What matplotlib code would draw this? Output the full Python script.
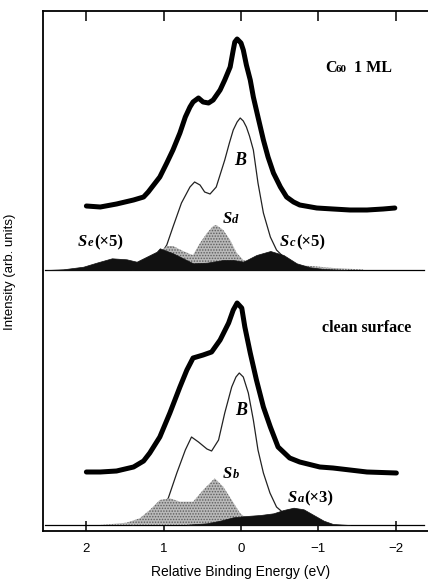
import numpy as np
import matplotlib
matplotlib.use("Agg")
import matplotlib.pyplot as plt

plt.rcParams["font.family"] = ["Liberation Sans", "DejaVu Sans"]
plt.rcParams["hatch.linewidth"] = 0.7

# energies in eV, heights in arb. units above each panel's baseline
# --- C60 1 ML (upper panel) ---
ml_x = [2.00, 1.82, 1.61, 1.39, 1.26, 1.20, 1.13, 1.05, 0.96, 0.88, 0.79, 0.72, 0.66,
        0.62, 0.55, 0.49, 0.42, 0.36, 0.27, 0.21, 0.14, 0.10, 0.08, 0.05, 0.00, -0.03,
        -0.07, -0.12, -0.16, -0.22, -0.29, -0.35, -0.42, -0.51, -0.59, -0.68, -0.76,
        -0.98, -1.19, -1.41, -1.63, -1.84, -1.99]
ml_y = [64, 63, 66, 70, 73, 78, 85, 93, 107, 120, 137, 153, 163,
        168, 172, 168, 167, 170, 180, 190, 203, 220, 228, 231, 227, 220,
        205, 190, 173, 153, 130, 113, 97, 83, 73, 68, 65,
        62, 61, 60, 60, 61, 62]

ml_b_x = [1.40, 1.20, 1.05, 0.96, 0.88, 0.77, 0.66, 0.60, 0.53, 0.47, 0.40, 0.32, 0.21,
          0.15, 0.10, 0.05, 0.01, -0.03, -0.07, -0.11, -0.16, -0.22, -0.29, -0.38,
          -0.46, -0.59, -0.76, -0.98]
ml_b_y = [0, 4, 14, 25, 43, 67, 83, 88, 85, 78, 76, 83, 110,
          127, 140, 148, 152, 149, 143, 134, 120, 87, 57, 33,
          20, 10, 3, 0.5]

ml_sd_x = [1.60, 1.35, 1.15, 0.96, 0.88, 0.75, 0.66, 0.62, 0.53, 0.44, 0.36, 0.32, 0.23,
           0.14, 0.055, -0.03, -0.16, -0.40, -0.70, -0.90, -1.20, -1.58]
ml_sd_y = [0, 3, 10, 24, 24, 19, 16, 15, 27, 37, 44, 45, 40,
           30, 17, 10, 7, 6, 5, 4, 2, 0.5]

# Se and Sc components (x5)
ml_sesc_x = [2.51, 2.30, 2.04, 1.87, 1.67, 1.48, 1.35, 1.22, 1.09, 1.05, 0.88, 0.75, 0.62,
             0.44, 0.23, 0.10, -0.03, -0.20, -0.38, -0.55, -0.72, -0.89, -1.07, -1.37]
ml_sesc_y = [0, 0.7, 3.3, 7.3, 11.7, 10.7, 8.3, 13.3, 18.3, 21.7, 16.7, 11.7, 6.7,
             7.3, 10, 10, 8.3, 15, 19, 15, 6.7, 2.7, 1, 0]

# --- clean surface (lower panel) ---
cl_x = [2.00, 1.82, 1.61, 1.39, 1.26, 1.18, 1.05, 0.92, 0.79, 0.70, 0.62, 0.49, 0.38,
        0.27, 0.16, 0.10, 0.05, -0.01, -0.05, -0.12, -0.20, -0.29, -0.38, -0.48,
        -0.63, -0.76, -1.02, -1.19, -1.63, -2.01]
cl_y = [53, 53, 54, 58, 64, 72, 88, 112, 138, 155, 167, 170, 173,
        185, 202, 215, 222, 217, 198, 172, 145, 118, 98, 78,
        67, 63, 58, 57, 53, 52]

cl_b_x = [1.40, 1.20, 1.05, 0.94, 0.83, 0.72, 0.64, 0.55, 0.44, 0.38, 0.29, 0.21, 0.12,
          0.065, 0.022, -0.03, -0.095, -0.16, -0.22, -0.29, -0.375, -0.46, -0.55,
          -0.76, -0.98]
cl_b_y = [0, 4, 13, 27, 52, 75, 88, 83, 76, 74, 85, 112, 138,
          148, 152, 148, 132, 105, 75, 52, 32, 18, 12,
          5, 2]

cl_sb_x = [1.82, 1.48, 1.31, 1.18, 1.05, 0.92, 0.79, 0.62, 0.49, 0.34, 0.23, 0.12,
           0.01, -0.10, -0.30]
cl_sb_y = [0, 2.3, 6.7, 15, 25, 26.7, 23.3, 23.3, 35, 46.7, 38.3, 25,
           11.7, 5, 0]

# Sa component (x3)
cl_sa_x = [0.70, 0.44, 0.27, 0.10, -0.07, -0.25, -0.42, -0.55, -0.68, -0.81, -0.94,
           -1.07, -1.19, -1.41]
cl_sa_y = [0.3, 1.7, 4.3, 7.7, 9, 10, 11.7, 15, 17.3, 15.7, 10, 4.3, 1, 0]

ticks = [2, 1, 0, -1, -2]
tick_labels = ["2", "1", "0", "\u22121", "\u22122"]

upper_base = 261
lower_base = 6

fig = plt.figure(figsize=(4.28, 5.84), dpi=100)
ax = fig.add_axes([42.7 / 428, 1 - 531 / 584, (429.6 - 42.7) / 428, 520 / 584])
ax.set_xlim(2.565, -2.44)
ax.set_ylim(0, 520)


def panel(base, dx, dy, bx, by, gx, gy, kx, ky):
    ax.plot([2.53, -2.37], [base, base], color="black", lw=0.9, zorder=1)
    ax.plot(bx, np.array(by) + base, color="#222222", lw=0.9, zorder=2)
    ax.fill_between(gx, base, np.array(gy) + base, facecolor="#b9b9b9",
                    edgecolor="#5e5e5e", hatch="......", lw=0, zorder=3)
    ax.fill_between(kx, base, np.array(ky) + base, facecolor="#111111",
                    edgecolor="#111111", lw=0.5, zorder=4)
    ax.plot(dx, np.array(dy) + base, color="black", lw=3.6, zorder=5,
            solid_capstyle="round", solid_joinstyle="round")


panel(upper_base, ml_x, ml_y, ml_b_x, ml_b_y, ml_sd_x, ml_sd_y, ml_sesc_x, ml_sesc_y)
panel(lower_base, cl_x, cl_y, cl_b_x, cl_b_y, cl_sb_x, cl_sb_y, cl_sa_x, cl_sa_y)

serif = ["Liberation Serif", "DejaVu Serif"]


def s_label(x, y, sub, extra=""):
    ax.text(x, y, "S", family=serif, style="italic", weight="bold", size=12,
            ha="left", va="baseline", zorder=6)
    ax.annotate(sub, xy=(x, y), xytext=(6.8, 0), textcoords="offset points",
                family=serif, style="italic", weight="bold", size=9,
                ha="left", va="baseline", zorder=6)
    if extra:
        ax.annotate(extra, xy=(x, y), xytext=(11.5, 0), textcoords="offset points",
                    family=serif, weight="bold", size=12,
                    ha="left", va="baseline", zorder=6)


# upper panel labels
ax.text(-1.087, 459, "C", family=serif, weight="bold", size=11.5, ha="left", va="baseline")
ax.annotate("60", xy=(-1.087, 459), xytext=(7.8, 0), textcoords="offset points",
            family=serif, weight="bold", size=8, ha="left", va="baseline")
ax.annotate("1 ML", xy=(-1.087, 459), xytext=(21, 0), textcoords="offset points",
            family=serif, weight="bold", size=11.5, ha="left", va="baseline")
ax.text(0.013, 366, "B", family=serif, style="italic", weight="bold", size=13,
        ha="center", va="baseline", zorder=6)
s_label(0.24, 308, "d")
s_label(2.11, 285, "e", "(\u00d75)")
s_label(-0.505, 285, "c", "(\u00d75)")

# lower panel labels
ax.text(-1.044, 199, "clean surface", family=serif, weight="bold", size=11.5,
        ha="left", va="baseline")
ax.text(0.0, 116, "B", family=serif, style="italic", weight="bold", size=13,
        ha="center", va="baseline", zorder=6)
s_label(0.233, 53, "b")
s_label(-0.608, 29, "a", "(\u00d73)")

ax.set_xticks(ticks)
ax.set_xticklabels(tick_labels)
ax.set_yticks([])
ax.tick_params(axis="x", direction="in", length=7.5, width=1.1, top=True,
               labelsize=9.5, pad=8.5)
for side in ["left", "top", "bottom"]:
    ax.spines[side].set_linewidth(1.3)

fig.text(10 / 428, 1 - 272 / 584, "Intensity (arb. units)", rotation=90,
         ha="center", va="center", size=9.5)
fig.text(241 / 428, 1 - 572 / 584, "Relative Binding Energy (eV)",
         ha="center", va="center", size=10)

fig.savefig("out.png", dpi=100)
